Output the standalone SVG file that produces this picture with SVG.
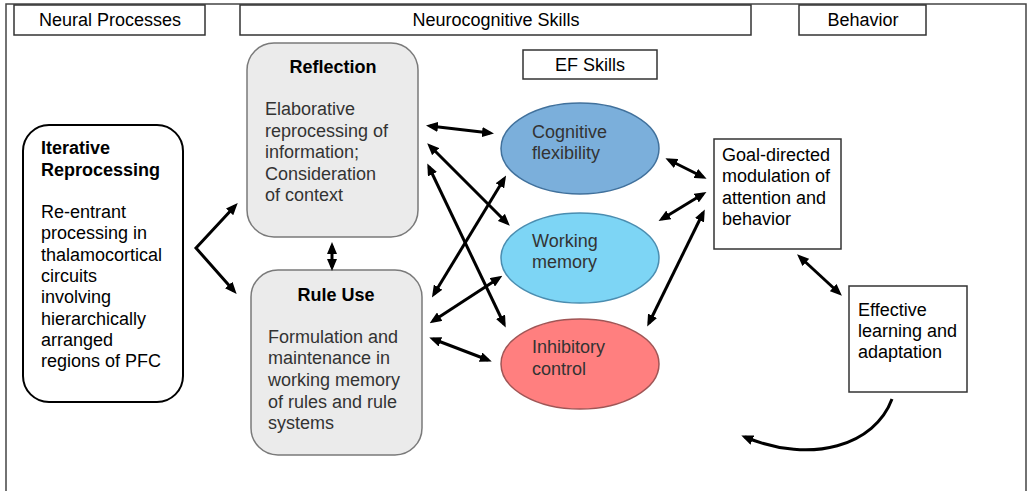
<svg xmlns="http://www.w3.org/2000/svg" width="1028" height="491" viewBox="0 0 1028 491">
  <style>
    text { font-family: "Liberation Sans", Arial, sans-serif; font-size: 18px; fill: #000; }
    .b { font-weight: bold; }
    .g { fill: #333; }
    .mid { text-anchor: middle; }
    .hdr { fill: #fff; stroke: #333; stroke-width: 1.5; }
    .sq { fill: #fff; stroke: #333; stroke-width: 1.5; }
    .grey { fill: #ebebeb; stroke: #7a7a7a; stroke-width: 1.5; }
    .conn { fill: none; stroke: #000; stroke-width: 3; marker-start: url(#ah); marker-end: url(#ah); }
  </style>
  <defs>
    <marker id="ah" markerUnits="userSpaceOnUse" markerWidth="12" markerHeight="10" refX="8" refY="5" orient="auto-start-reverse">
      <path d="M0,0 L12,5 L0,10 z" fill="#000"/>
    </marker>
  </defs>

  <rect width="1028" height="491" fill="#fff"/>
  <!-- outer frame, open at the bottom -->
  <path d="M6,492 L6,4 L1026,4 L1026,492" fill="none" stroke="#444" stroke-width="1.5"/>

  <!-- column headers -->
  <g id="hdr-neural">
    <rect class="hdr" x="14" y="5" width="191" height="30"/>
    <text class="mid" x="110" y="26">Neural Processes</text>
  </g>
  <g id="hdr-neurocog">
    <rect class="hdr" x="240" y="5" width="511" height="30"/>
    <text class="mid" x="496" y="26">Neurocognitive Skills</text>
  </g>
  <g id="hdr-behavior">
    <rect class="hdr" x="799" y="5" width="127" height="30"/>
    <text class="mid" x="863" y="26">Behavior</text>
  </g>
  <g id="hdr-ef">
    <rect class="hdr" x="523" y="50" width="134" height="29"/>
    <text class="mid" x="590" y="71">EF Skills</text>
  </g>

  <!-- neural process -->
  <g id="iterative">
    <rect x="23" y="125" width="160" height="277" rx="26" fill="#fff" stroke="#000" stroke-width="2"/>
    <text class="b" x="41" y="154">Iterative</text>
    <text class="b" x="41" y="176">Reprocessing</text>
    <text x="41" y="218">Re-entrant</text>
    <text x="41" y="239">processing in</text>
    <text x="41" y="261">thalamocortical</text>
    <text x="41" y="282">circuits</text>
    <text x="41" y="303">involving</text>
    <text x="41" y="325">hierarchically</text>
    <text x="41" y="346">arranged</text>
    <text x="41" y="367">regions of PFC</text>
  </g>

  <!-- neurocognitive skills -->
  <g id="reflection">
    <rect class="grey" x="247" y="43" width="171" height="194" rx="27"/>
    <text class="b mid" x="333" y="73">Reflection</text>
    <text class="g" x="265" y="115">Elaborative</text>
    <text class="g" x="265" y="137">reprocessing of</text>
    <text class="g" x="265" y="158">information;</text>
    <text class="g" x="265" y="180">Consideration</text>
    <text class="g" x="265" y="201">of context</text>
  </g>
  <g id="rule-use">
    <rect class="grey" x="251" y="270" width="171" height="185" rx="27"/>
    <text class="b mid" x="336" y="301">Rule Use</text>
    <text class="g" x="268" y="343">Formulation and</text>
    <text class="g" x="268" y="364">maintenance in</text>
    <text class="g" x="268" y="386">working memory</text>
    <text class="g" x="268" y="408">of rules and rule</text>
    <text class="g" x="268" y="429">systems</text>
  </g>

  <!-- EF skills -->
  <g id="cognitive-flexibility">
    <ellipse cx="580" cy="148.5" rx="79" ry="45.5" fill="#7bafdb" stroke="#41719c" stroke-width="1.5"/>
    <text class="g" x="532" y="138">Cognitive</text>
    <text class="g" x="532" y="159">flexibility</text>
  </g>
  <g id="working-memory">
    <ellipse cx="580" cy="258" rx="79" ry="45" fill="#7dd5f5" stroke="#4a8db0" stroke-width="1.5"/>
    <text class="g" x="532" y="247">Working</text>
    <text class="g" x="532" y="268">memory</text>
  </g>
  <g id="inhibitory-control">
    <ellipse cx="580" cy="364" rx="79" ry="45" fill="#ff7f7f" stroke="#a05555" stroke-width="1.5"/>
    <text class="g" x="532" y="353">Inhibitory</text>
    <text class="g" x="532" y="375">control</text>
  </g>

  <!-- behavior -->
  <g id="goal-directed">
    <rect class="sq" x="714" y="139" width="127" height="110"/>
    <text x="722" y="161">Goal-directed</text>
    <text x="722" y="182">modulation of</text>
    <text x="722" y="204">attention and</text>
    <text x="722" y="225">behavior</text>
  </g>
  <g id="effective-learning">
    <rect class="sq" x="849" y="286" width="118" height="106"/>
    <text x="858" y="316">Effective</text>
    <text x="858" y="337">learning and</text>
    <text x="858" y="358">adaptation</text>
  </g>

  <!-- connectors -->
  <g id="connectors">
    <path class="conn" d="M235,206 L196,248 L234,291" stroke-linejoin="miter"/>
    <path class="conn" d="M332,246 L332,267"/>
    <path class="conn" d="M430,126 L490,133"/>
    <path class="conn" d="M430,146 L507,223"/>
    <path class="conn" d="M429,167 L504,324"/>
    <path class="conn" d="M504,179 L434,294"/>
    <path class="conn" d="M499,278 L433,321"/>
    <path class="conn" d="M433,339 L488,360"/>
    <path class="conn" d="M669,160 L703,177"/>
    <path class="conn" d="M662,219 L703,194"/>
    <path class="conn" d="M703,213 L649,323"/>
    <path class="conn" d="M800,257 L839,293"/>
    <path d="M892,399 C875,445 812,465 745,437" fill="none" stroke="#000" stroke-width="3" marker-end="url(#ah)"/>
  </g>
</svg>
